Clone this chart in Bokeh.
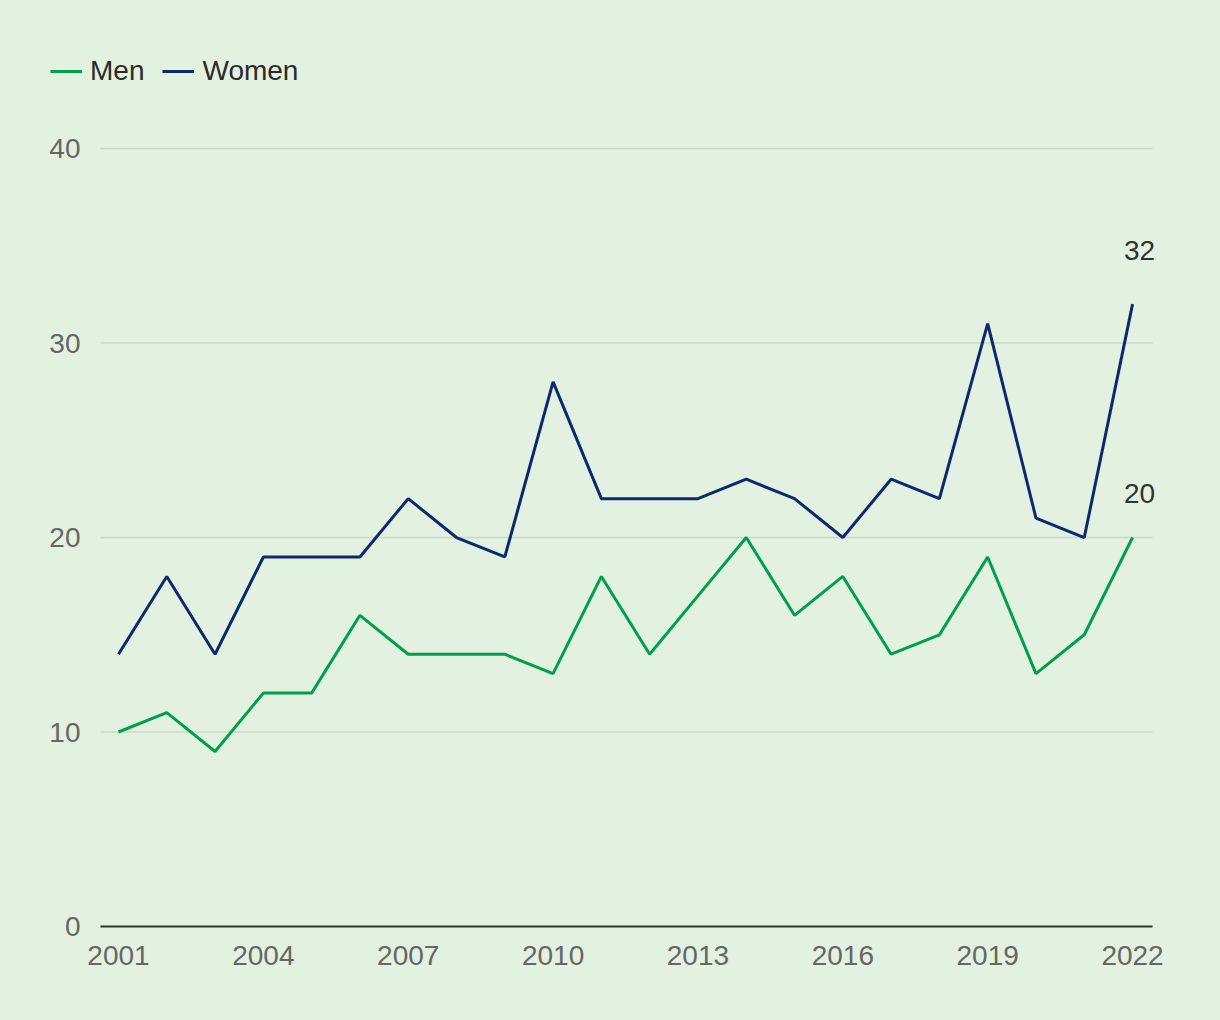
from bokeh.plotting import figure
from bokeh.models import Range1d, FixedTicker, Legend, LegendItem, ColumnDataSource
from bokeh.core.properties import value
from bokeh.embed import file_html
from bokeh.resources import INLINE

years = list(range(2001, 2023))
men = [10, 11, 9, 12, 12, 16, 14, 14, 14, 13, 18, 14, 17, 20, 16, 18, 14, 15, 19, 13, 15, 20]
women = [14, 18, 14, 19, 19, 19, 22, 20, 19, 28, 22, 22, 22, 23, 22, 20, 23, 22, 31, 21, 20, 32]
x_ticks = [2001, 2004, 2007, 2010, 2013, 2016, 2019, 2022]
y_ticks = [0, 10, 20, 30, 40]

BG = "#e3f1e0"
GREEN = "#00a04b"
NAVY = "#0b2a6e"
FONT = "Liberation Sans"
FS = "28px"

# plot-area extents (data units) for the visible grid / axis line
GRID_X0, GRID_X1 = 2000.627, 2022.414

p = figure(width=1220, height=1020, output_backend="svg", toolbar_location=None,
           x_range=Range1d(1999.385, 2023.20), y_range=Range1d(0, 46.07),
           min_border_left=40, min_border_right=30, min_border_top=30, min_border_bottom=94)
p.background_fill_color = BG
p.border_fill_color = BG
p.outline_line_color = None
p.xgrid.grid_line_color = None
p.ygrid.grid_line_color = None

# horizontal grid lines limited to the plot area
grid_y = [t for t in y_ticks if t > 0]
p.segment(x0=[GRID_X0] * len(grid_y), x1=[GRID_X1] * len(grid_y), y0=grid_y, y1=grid_y,
          line_color="#c9dac9", line_width=1.5, level="underlay")

r_men = p.line(years, men, line_color=GREEN, line_width=3)
r_women = p.line(years, women, line_color=NAVY, line_width=3)

# end labels
lab = ColumnDataSource(dict(x=[years[-1], years[-1]], y=[women[-1], men[-1]],
                            t=[str(women[-1]), str(men[-1])], yo=[-54, -44]))
p.text(x="x", y="y", text="t", y_offset="yo", x_offset=7, source=lab,
       text_font=value(FONT), text_font_size=FS, text_color="#333333",
       text_align="center", text_baseline="middle")

p.xaxis.ticker = FixedTicker(ticks=x_ticks)
p.xaxis.bounds = (GRID_X0, GRID_X1)
p.xaxis.axis_line_color = "#333333"
p.xaxis.axis_line_width = 2
p.xaxis.major_tick_line_color = None
p.xaxis.minor_tick_line_color = None
p.xaxis.major_label_standoff = 13
p.xaxis.major_label_text_font = FONT
p.xaxis.major_label_text_font_size = FS
p.xaxis.major_label_text_color = "#666666"

p.yaxis.ticker = FixedTicker(ticks=y_ticks)
p.yaxis.axis_line_color = None
p.yaxis.major_tick_line_color = None
p.yaxis.minor_tick_line_color = None
p.yaxis.major_label_standoff = -46
p.yaxis.major_label_text_font = FONT
p.yaxis.major_label_text_font_size = FS
p.yaxis.major_label_text_color = "#666666"

legend = Legend(items=[LegendItem(label="Men", renderers=[r_men]),
                       LegendItem(label="Women", renderers=[r_women])],
                orientation="horizontal", location=(10, 839))
legend.background_fill_alpha = 0
legend.border_line_color = None
legend.padding = 0
legend.margin = 0
legend.spacing = 18
legend.glyph_width = 32
legend.label_standoff = 8
legend.label_text_font = FONT
legend.label_text_font_size = FS
legend.label_text_color = "#2b2b2b"
p.add_layout(legend, "center")

html = file_html(p, INLINE)
html = html.replace("</head>", "<style>body{background:%s;}</style></head>" % BG, 1)
open("out.html", "w").write(html)
